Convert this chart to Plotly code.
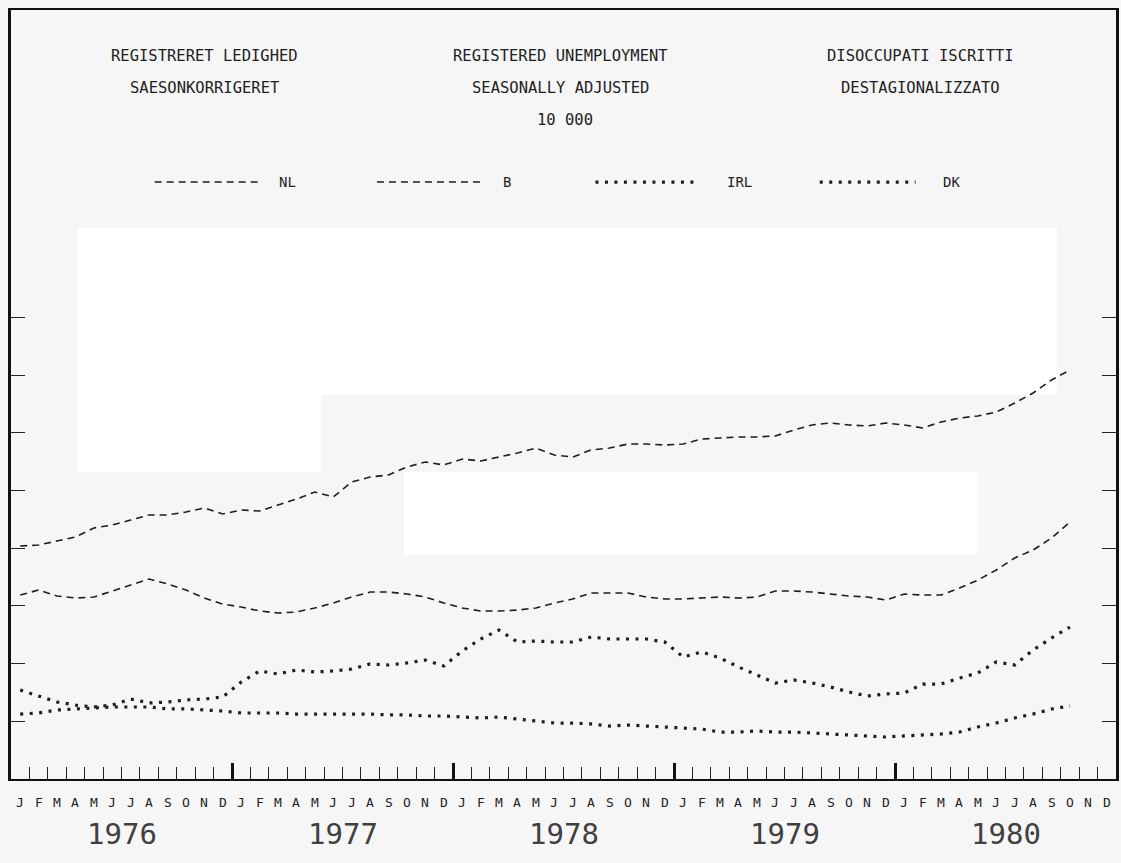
import plotly.graph_objects as go

# ---- data (unit: 10 000 persons, seasonally adjusted), Jan 1976 .. Oct 1980 ----
month_letters = ["J", "F", "M", "A", "M", "J", "J", "A", "S", "O", "N", "D"]
years = ["1976", "1977", "1978", "1979", "1980"]

B = [25.19, 25.28, 25.62, 25.97, 26.75, 27.01, 27.44, 27.88, 27.88, 28.14, 28.48, 27.96,
     28.31, 28.22, 28.74, 29.26, 29.87, 29.44, 30.74, 31.17, 31.34, 32.04, 32.47, 32.21,
     32.73, 32.56, 32.90, 33.25, 33.68, 33.08, 32.90, 33.51, 33.68, 34.03, 34.03, 33.94,
     34.03, 34.46, 34.55, 34.64, 34.64, 34.72, 35.24, 35.68, 35.85, 35.68, 35.59, 35.85,
     35.68, 35.42, 35.94, 36.28, 36.46, 36.80, 37.58, 38.45, 39.58, 40.44]

NL = [20.94, 21.38, 20.86, 20.68, 20.77, 21.29, 21.81, 22.33, 21.90, 21.38, 20.68, 20.16,
      19.90, 19.56, 19.38, 19.47, 19.82, 20.25, 20.77, 21.20, 21.20, 21.03, 20.77, 20.25,
      19.82, 19.56, 19.56, 19.64, 19.82, 20.25, 20.60, 21.12, 21.12, 21.12, 20.77, 20.60,
      20.60, 20.68, 20.77, 20.68, 20.77, 21.29, 21.29, 21.20, 21.03, 20.86, 20.77, 20.51,
      21.03, 20.94, 20.94, 21.55, 22.24, 23.11, 24.15, 24.84, 25.88, 27.27]

IRL = [10.63, 10.72, 10.98, 11.07, 11.15, 11.24, 11.24, 11.24, 11.07, 11.07, 10.98, 10.89,
       10.72, 10.72, 10.72, 10.63, 10.63, 10.63, 10.63, 10.63, 10.55, 10.55, 10.46, 10.46,
       10.37, 10.29, 10.37, 10.20, 10.03, 9.85, 9.85, 9.77, 9.59, 9.68, 9.59, 9.51,
       9.42, 9.33, 9.07, 9.07, 9.16, 9.07, 9.07, 8.99, 8.90, 8.81, 8.73, 8.64,
       8.73, 8.81, 8.90, 9.07, 9.51, 9.85, 10.29, 10.63, 11.07, 11.33]

DK = [12.71, 12.19, 11.67, 11.41, 11.24, 11.41, 11.93, 11.59, 11.67, 11.85, 11.93, 12.11,
      13.41, 14.36, 14.10, 14.45, 14.27, 14.36, 14.53, 14.97, 14.88, 15.05, 15.31, 14.79,
      16.09, 17.13, 17.91, 16.87, 16.96, 16.87, 16.87, 17.31, 17.13, 17.13, 17.13, 16.87,
      15.57, 16.01, 15.49, 14.71, 14.01, 13.32, 13.58, 13.32, 12.97, 12.54, 12.19, 12.37,
      12.45, 13.23, 13.23, 13.75, 14.19, 15.14, 14.88, 16.18, 17.22, 18.17]

y_ticks = [10, 15, 20, 25, 30, 35, 40, 45]

titles_row1 = ["REGISTRERET LEDIGHED", "REGISTERED UNEMPLOYMENT", "DISOCCUPATI ISCRITTI"]
titles_row2 = ["SAESONKORRIGERET", "SEASONALLY ADJUSTED", "DESTAGIONALIZZATO"]
unit_label = "10 000"
legend_names = ["NL", "B", "IRL", "DK"]

# ---- styles ----
FONT = "DejaVu Sans Mono"
INK = "#1e1e1e"
DASH = "7px,5px"
DOT = "3px,6.5px"
BG = "#f6f6f6"

n_months = len(years) * 12
x_months = list(range(len(B)))

fig = go.Figure()
series = [("B", B, DASH, 1.6), ("NL", NL, DASH, 1.6), ("IRL", IRL, DOT, 3.2), ("DK", DK, DOT, 3.2)]
for name, vals, dash, w in series:
    fig.add_trace(go.Scatter(x=x_months, y=vals, mode="lines", name=name,
                             line=dict(color=INK, width=w, dash=dash), showlegend=False,
                             hoverinfo="skip"))

annotations = []
# month letters and years
for i in range(n_months):
    annotations.append(dict(x=i, y=-0.031, xref="x", yref="paper", text=month_letters[i % 12],
                            showarrow=False, xanchor="center", yanchor="middle",
                            font=dict(family=FONT, size=13, color=INK)))
for k, yr in enumerate(years):
    annotations.append(dict(x=12 * k + 5.5, y=-0.071, xref="x", yref="paper", text=yr,
                            showarrow=False, xanchor="center", yanchor="middle",
                            font=dict(family=FONT, size=29, color="#404040")))

# titles
title_x = [0.1751, 0.4973, 0.8231]
TSIZE = 15.5
for tx, t1, t2 in zip(title_x, titles_row1, titles_row2):
    annotations.append(dict(x=tx, y=0.9402, xref="paper", yref="paper", text=t1, showarrow=False,
                            xanchor="center", yanchor="middle", font=dict(family=FONT, size=TSIZE, color=INK)))
    annotations.append(dict(x=tx, y=0.8986, xref="paper", yref="paper", text=t2, showarrow=False,
                            xanchor="center", yanchor="middle", font=dict(family=FONT, size=TSIZE, color=INK)))
annotations.append(dict(x=0.5018, y=0.8570, xref="paper", yref="paper", text=unit_label, showarrow=False,
                        xanchor="center", yanchor="middle", font=dict(family=FONT, size=TSIZE, color=INK)))

# legend (custom, drawn as shapes + labels)
shapes = []
legend_samples = [(0.130, 0.2265, 0.241, DASH, 1.6), (0.3312, 0.4251, 0.443, DASH, 1.6),
                  (0.5289, 0.6182, 0.6462, DOT, 3.2), (0.7319, 0.8186, 0.8412, DOT, 3.2)]
for name, (x0, x1, xl, dash, w) in zip(legend_names, legend_samples):
    shapes.append(dict(type="line", xref="paper", yref="paper", x0=x0, x1=x1, y0=0.7763, y1=0.7763,
                       line=dict(color=INK, width=w, dash=dash)))
    annotations.append(dict(x=xl, y=0.7763, xref="paper", yref="paper", text=name, showarrow=False,
                            xanchor="left", yanchor="middle", font=dict(family=FONT, size=14, color=INK)))

# scan-like white patches in the background
for (x0, x1, y0, y1) in [(0.0605, 0.9468, 0.7165, 0.4993), (0.0605, 0.2807, 0.4993, 0.3992),
                         (0.3556, 0.8745, 0.3992, 0.2913)]:
    shapes.append(dict(type="rect", xref="paper", yref="paper", x0=x0, x1=x1, y0=y0, y1=y1,
                       fillcolor="#ffffff", line=dict(width=0), layer="below"))

fig.update_layout(
    width=1121, height=863,
    margin=dict(l=11, r=2, t=10, b=84),
    paper_bgcolor=BG, plot_bgcolor=BG,
    showlegend=False,
    annotations=annotations, shapes=shapes,
    xaxis=dict(range=[-0.5, n_months - 0.5], showgrid=False, zeroline=False,
               showline=True, linecolor="#111111", linewidth=2, mirror=True,
               tickmode="array", tickvals=[12 * k - 0.5 for k in range(len(years) + 1)],
               ticks="inside", ticklen=16, tickwidth=2.6, tickcolor="#111111",
               showticklabels=False,
               minor=dict(tickmode="array", tickvals=[m - 0.5 for m in range(n_months + 1)],
                          ticks="inside", ticklen=12, tickwidth=1.2, tickcolor="#222222",
                          showgrid=False)),
    yaxis=dict(range=[5, 5 + 769 / 57.7 * 5], showgrid=False, zeroline=False,
               showline=True, linecolor="#111111", linewidth=2.5, mirror="ticks",
               tickmode="array", tickvals=y_ticks, ticks="inside", ticklen=14,
               tickwidth=1.4, tickcolor="#222222", showticklabels=False),
)

fig.write_html("out.html", config={"displayModeBar": False},
               post_script="document.body.style.margin='0px';document.body.style.overflow='hidden';")
